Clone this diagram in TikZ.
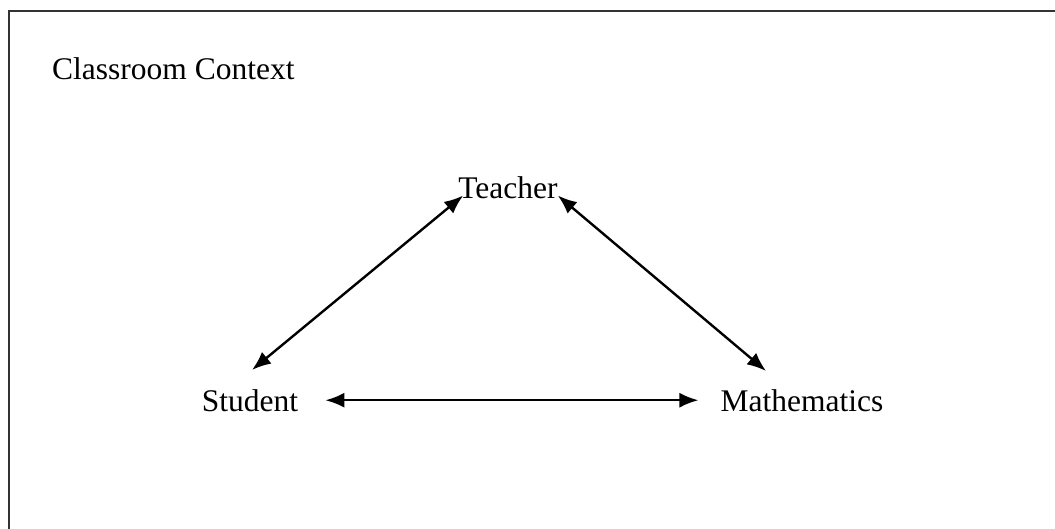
\documentclass[tikz,border=0pt]{standalone}
\usepackage{fontspec}
\setmainfont{Liberation Serif}
\usetikzlibrary{arrows.meta,calc}
\begin{document}
\begin{tikzpicture}[x=1pt,y=-1pt,
  lab/.style={inner sep=0pt, font=\fontsize{31.5}{36}\selectfont},
  link/.style={line width=2.4pt, {Latex[length=19pt,width=15pt]}-{Latex[length=19pt,width=15pt]}},
  frame/.style={line width=2.4pt, draw=black!80}]
\useasboundingbox (0,0) rectangle (1055,528);
\draw[frame] (9,545) -- (9,11) -- (1075,11);
\node[lab, anchor=base west] (ctx) at (52,79) {Classroom Context};
\node[lab, anchor=base] (T) at (508,198) {Teacher};
\node[lab, anchor=base] (S) at (250,411) {Student};
\node[lab, anchor=base] (M) at (802,411) {Mathematics};
\draw[link] ($(T.south west)+(5,-3)$) -- ($(S.north)+(2,-19)$);
\draw[link] ($(T.south east)+(0,-3)$) -- ($(M.north)+(-36,-18)$);
\draw[link] ($(S.east)+(27,0)$) -- ($(M.west)+(-22,0)$);
\end{tikzpicture}
\end{document}
